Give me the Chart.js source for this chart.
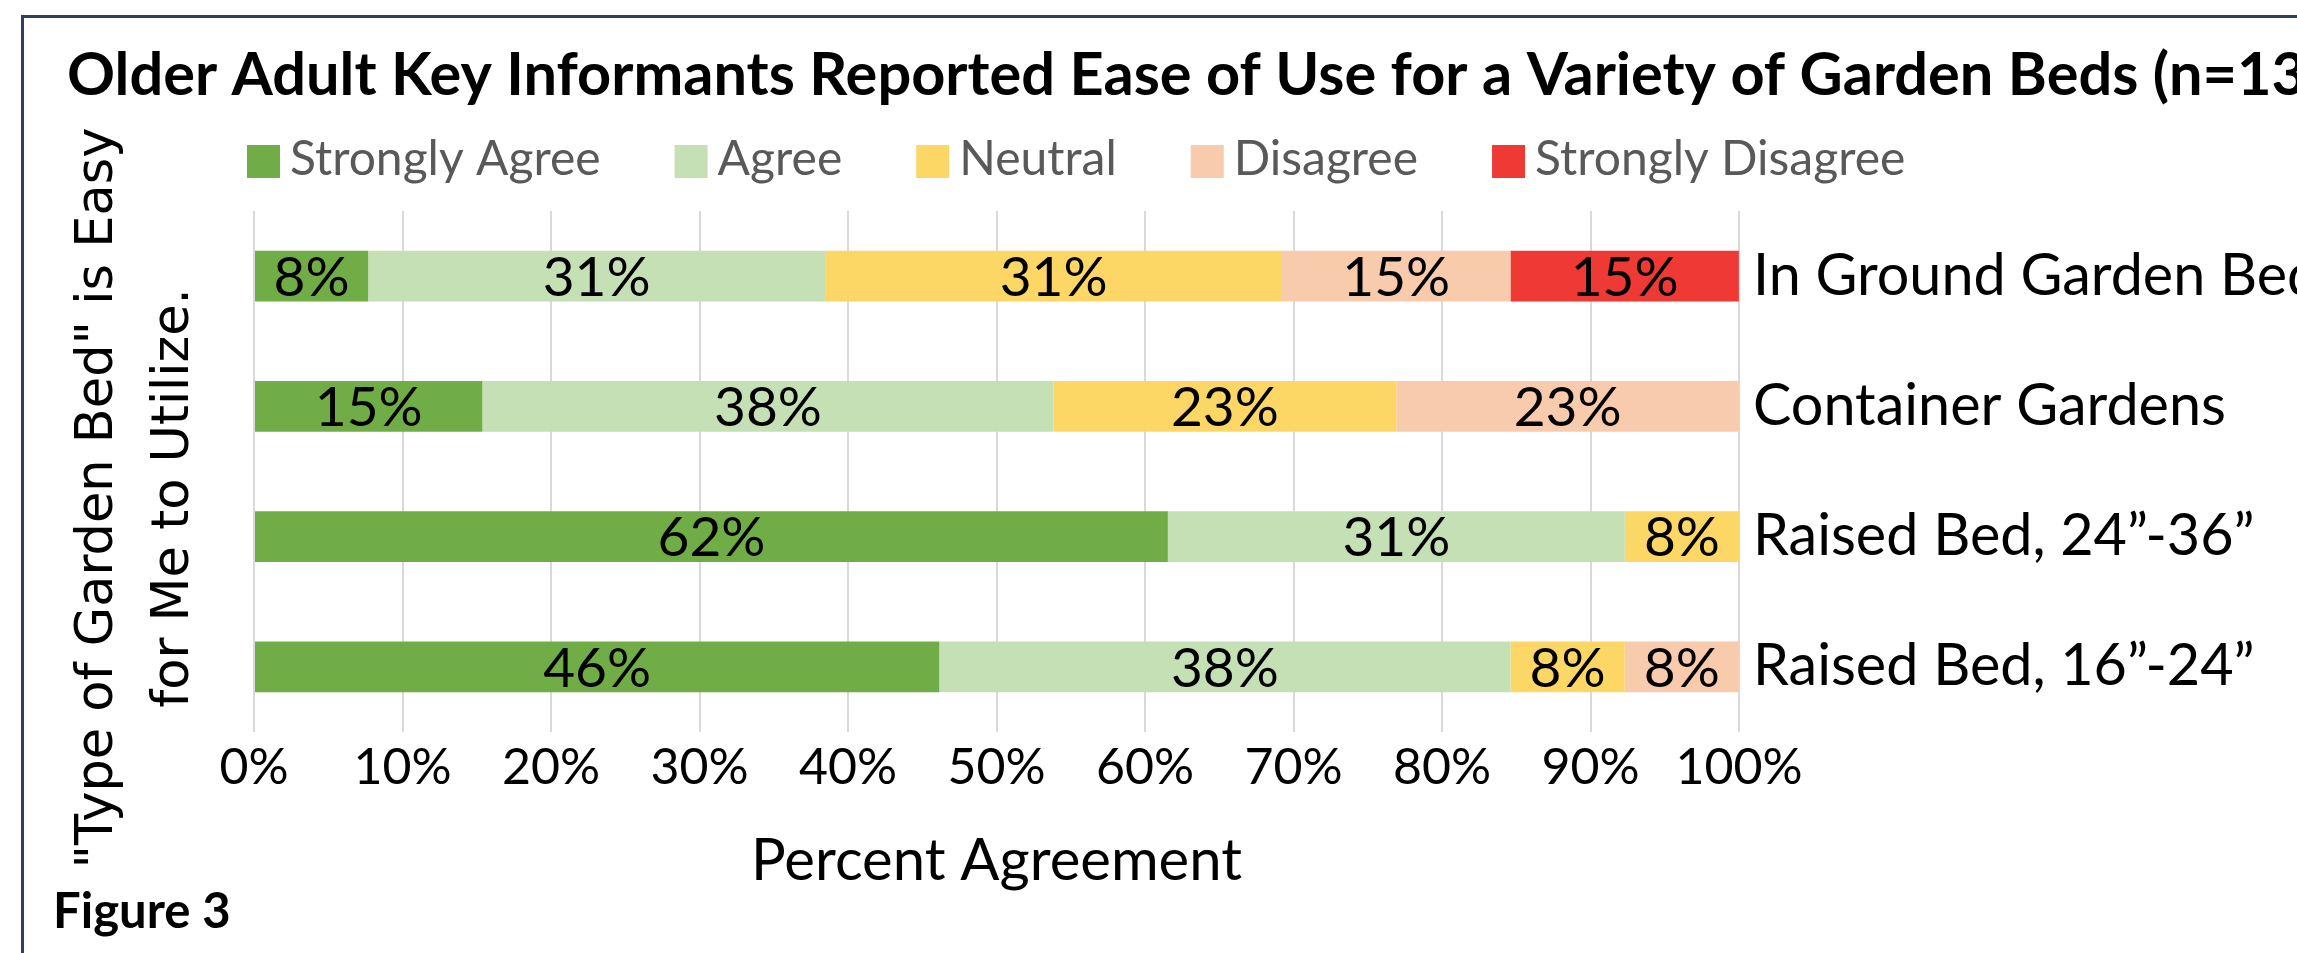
<!DOCTYPE html>
<html>
<head>
<meta charset="utf-8">
<script src="https://cdn.jsdelivr.net/npm/chart.js@4.4.1/dist/chart.umd.min.js"></script>
<style>
html,body{margin:0;padding:0;background:#ffffff;overflow:hidden}
canvas{display:block}
</style>
</head>
<body>
<canvas id="chart" width="2297" height="953"></canvas>
<script>
// ---- data ----
const categories = ['In Ground Garden Beds', 'Container Gardens', 'Raised Bed, 24\u201d-36\u201d', 'Raised Bed, 16\u201d-24\u201d'];
const seriesNames = ['Strongly Agree', 'Agree', 'Neutral', 'Disagree', 'Strongly Disagree'];
const stronglyAgree    = [7.69, 15.38, 61.54, 46.15];
const agree            = [30.77, 38.46, 30.77, 38.46];
const neutral          = [30.77, 23.08, 7.69, 7.69];
const disagree         = [15.38, 23.08, 0, 7.69];
const stronglyDisagree = [15.38, 0, 0, 0];
const xTickValues = [0, 10, 20, 30, 40, 50, 60, 70, 80, 90, 100];
const chartTitle = 'Older Adult Key Informants Reported Ease of Use for a Variety of Garden Beds (n=13)';
const yTitleLines = ['"Type of Garden Bed" is Easy', 'for Me to Utilize.'];
const xTitle = 'Percent Agreement';
const figureLabel = 'Figure 3';

// ---- styles ----
const seriesColors = ['#70AD47', '#C5E0B4', '#FCD766', '#F8CBAD', '#EE3935'];
const FONT = 'Lato';

const seriesValues = [stronglyAgree, agree, neutral, disagree, stronglyDisagree];

const dataLabelPlugin = {
  id: 'dataLabels',
  afterDatasetsDraw(chart) {
    const ctx = chart.ctx;
    ctx.save();
    ctx.font = '55px ' + FONT;
    ctx.fillStyle = '#000000';
    ctx.textAlign = 'center';
    ctx.textBaseline = 'middle';
    chart.data.datasets.forEach((ds, di) => {
      const meta = chart.getDatasetMeta(di);
      meta.data.forEach((el, i) => {
        const v = ds.data[i];
        if (!v) return;
        const p = el.getProps(['x', 'y', 'base'], true);
        ctx.fillText(Math.round(v) + '%', (p.x + p.base) / 2, p.y + 2);
      });
    });
    ctx.restore();
  }
};

const decorPlugin = {
  id: 'decor',
  afterDraw(chart) {
    const ctx = chart.ctx;
    ctx.save();
    // frame
    ctx.strokeStyle = '#2E3F63';
    ctx.lineWidth = 3;
    ctx.strokeRect(22.5, 16.5, 2400, 1100);
    // title
    ctx.fillStyle = '#000000';
    ctx.textAlign = 'left';
    ctx.textBaseline = 'alphabetic';
    ctx.font = 'bold 59.5px ' + FONT;
    ctx.fillText(chartTitle, 67, 95);
    // legend
    ctx.font = '48px ' + FONT;
    let x = 247;
    chart.data.datasets.forEach((ds) => {
      ctx.fillStyle = ds.backgroundColor;
      ctx.fillRect(x, 145, 33, 33);
      ctx.fillStyle = '#595959';
      ctx.fillText(ds.label, x + 43, 175);
      x += 43 + ctx.measureText(ds.label).width + 74;
    });
    // rotated y title
    ctx.fillStyle = '#000000';
    ctx.font = '51px "DejaVu Sans"';
    ctx.textAlign = 'center';
    const baseX = [112, 188];
    yTitleLines.forEach((line, i) => {
      ctx.save();
      ctx.translate(baseX[i], 498);
      ctx.rotate(-Math.PI / 2);
      ctx.fillText(line, 0, 0);
      ctx.restore();
    });
    // figure label
    ctx.textAlign = 'left';
    ctx.font = 'bold 49px ' + FONT;
    ctx.fillText(figureLabel, 53, 928);
    ctx.restore();
  }
};

new Chart(document.getElementById('chart').getContext('2d'), {
  type: 'bar',
  data: {
    labels: categories,
    datasets: seriesNames.map((name, i) => ({
      label: name,
      data: seriesValues[i],
      backgroundColor: seriesColors[i],
      borderWidth: 0,
      barPercentage: 0.39,
      categoryPercentage: 1
    }))
  },
  options: {
    indexAxis: 'y',
    responsive: false,
    animation: false,
    devicePixelRatio: 1,
    layout: { padding: { left: 254, top: 211, right: 0, bottom: 0 } },
    plugins: {
      legend: { display: false },
      title: { display: false },
      tooltip: { enabled: false }
    },
    scales: {
      x: {
        stacked: true,
        min: 0,
        max: 100,
        afterBuildTicks(scale) { scale.ticks = xTickValues.map(v => ({ value: v })); },
        ticks: {
          callback: v => v + '%',
          font: { family: FONT, size: 50 },
          color: '#000000',
          padding: 6,
          maxRotation: 0,
          autoSkip: false
        },
        grid: { color: '#D9D9D9', lineWidth: 2, drawTicks: false },
        border: { display: false },
        title: {
          display: true,
          text: xTitle,
          font: { family: FONT, size: 58 },
          color: '#000000',
          padding: { top: 0, bottom: 57 }
        },
        afterFit(scale) { scale.height = 221; }
      },
      y: {
        stacked: true,
        position: 'right',
        grid: { display: false, drawTicks: false },
        border: { display: false },
        ticks: {
          font: { family: FONT, size: 57.5 },
          color: '#000000',
          padding: 14
        },
        afterFit(scale) { scale.width = 558; }
      }
    }
  },
  plugins: [dataLabelPlugin, decorPlugin]
});
</script>
</body>
</html>
